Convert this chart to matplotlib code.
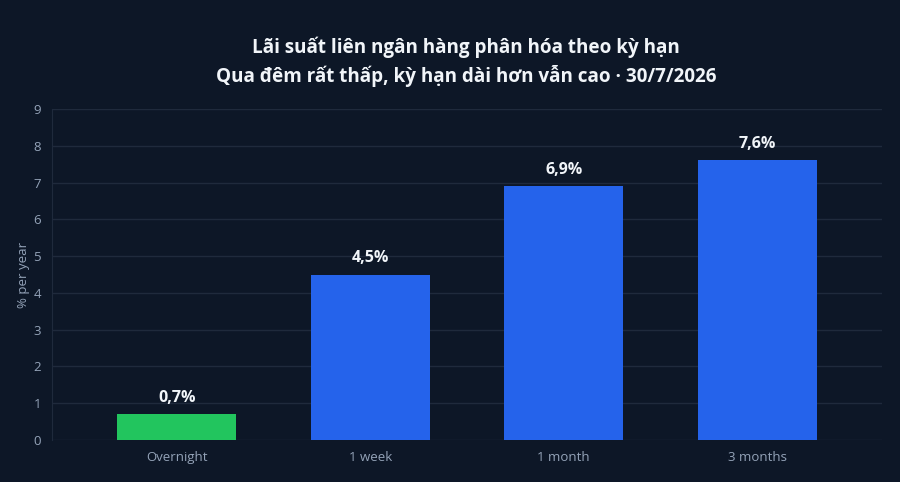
import matplotlib
matplotlib.use('Agg')
import matplotlib.pyplot as plt

categories = ['Overnight', '1 week', '1 month', '3 months']
rates = [0.7, 4.5, 6.9, 7.6]
bar_colors = ['#22c55e', '#2563eb', '#2563eb', '#2563eb']
value_labels = ['0,7%', '4,5%', '6,9%', '7,6%']
y_ticks = list(range(0, 10))

BG = '#0d1727'
GRID = '#1f2a3c'
TICK = '#94a3b8'
TEXT = '#f1f5f9'

plt.rcParams['font.family'] = ['Open Sans', 'DejaVu Sans']

fig = plt.figure(figsize=(9, 4.82), dpi=100, facecolor=BG)
ax = fig.add_axes([52 / 900, 1 - 440 / 482, 830 / 900, 331 / 482])
ax.set_facecolor(BG)

x = range(len(categories))
ax.bar(x, rates, width=0.615, color=bar_colors, zorder=3)

for i, (v, lab) in enumerate(zip(rates, value_labels)):
    ax.annotate(lab, (i, v), xytext=(0, 6), textcoords='offset points',
                ha='center', va='bottom', color=TEXT, fontsize=11.5,
                fontweight='bold', zorder=4)

ax.set_xlim(-0.645, 3.645)
ax.set_ylim(0, 9)
ax.set_yticks(y_ticks)
ax.set_xticks(list(x))
ax.set_xticklabels(categories)
ax.grid(axis='y', color=GRID, linewidth=1, zorder=0)
ax.tick_params(axis='both', colors=TICK, labelsize=9.5, length=0)
ax.tick_params(axis='x', pad=8)
ax.tick_params(axis='y', pad=8)
for side in ['top', 'right', 'bottom']:
    ax.spines[side].set_visible(False)
ax.spines['left'].set_color(GRID)
ax.set_ylabel('% per year', color=TICK, fontsize=9.5, labelpad=2)

title_x = 466 / 900
fig.text(title_x, 1 - 47 / 482, 'Lãi suất liên ngân hàng phân hóa theo kỳ hạn',
         ha='center', va='center', color=TEXT, fontsize=13.6, fontweight='bold')
fig.text(title_x, 1 - 76 / 482, 'Qua đêm rất thấp, kỳ hạn dài hơn vẫn cao · 30/7/2026',
         ha='center', va='center', color=TEXT, fontsize=13.6, fontweight='bold')

fig.savefig('out.png', dpi=100, facecolor=BG)
